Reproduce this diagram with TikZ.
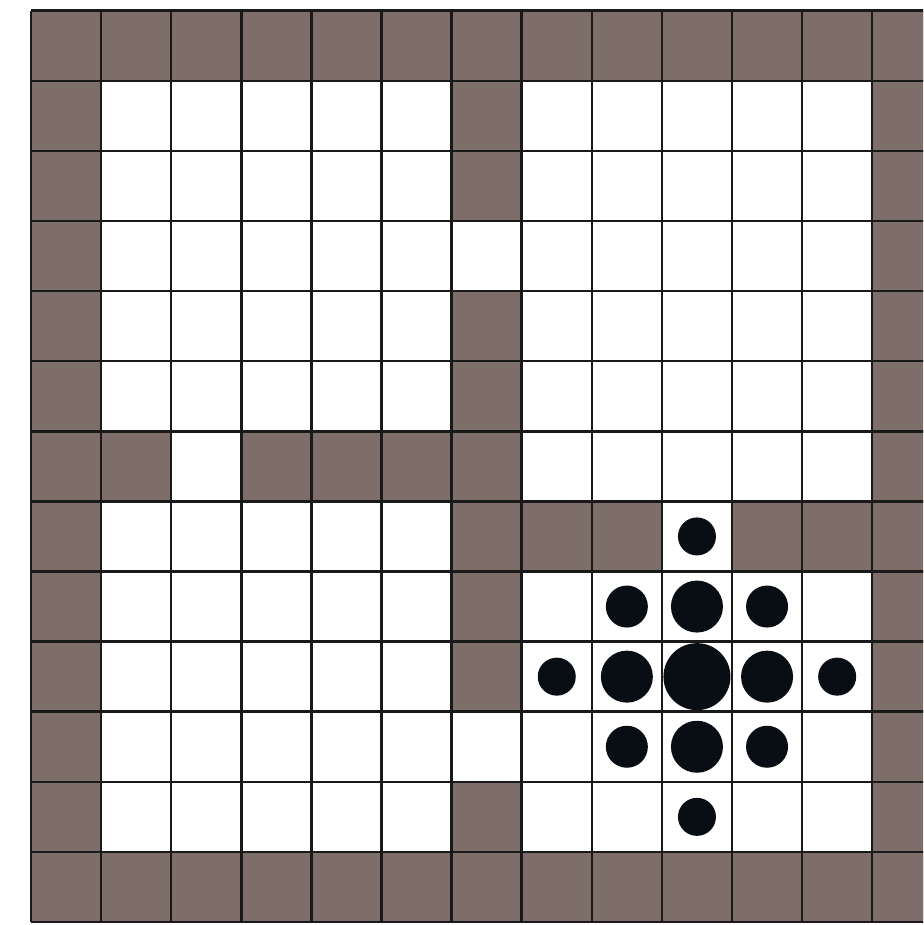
\documentclass[tikz,border=0pt]{standalone}
\definecolor{wallgray}{RGB}{125,110,106}
\definecolor{dotblack}{RGB}{8,14,20}
\begin{document}
\begin{tikzpicture}[x=0.02cm,y=-0.02cm,
  wall/.style={fill=wallgray},
  gridline/.style={line width=1.45pt, draw=black!90},
  dot/.style={fill=dotblack}]
\useasboundingbox (0,0) rectangle (923,925);
\clip (0,0) rectangle (923,925);
\fill[white] (0,0) rectangle (923,925);
\def\cs{70.1}
\def\ox{31}
\def\oy{10.7}
% outer walls
\foreach \i in {0,...,12} {
  \fill[wall] ({\ox+\i*\cs},{\oy}) rectangle ++(\cs,\cs);
  \fill[wall] ({\ox+\i*\cs},{\oy+12*\cs}) rectangle ++(\cs,\cs);
  \fill[wall] ({\ox},{\oy+\i*\cs}) rectangle ++(\cs,\cs);
  \fill[wall] ({\ox+12*\cs},{\oy+\i*\cs}) rectangle ++(\cs,\cs);
}
% inner walls
\foreach \c/\r in {6/1,6/2,6/4,6/5,6/6,6/7,6/8,6/9,6/11,
                   1/6,3/6,4/6,5/6,
                   7/7,8/7,10/7,11/7} {
  \fill[wall] ({\ox+\c*\cs},{\oy+\r*\cs}) rectangle ++(\cs,\cs);
}
% grid lines
\foreach \i in {0,...,13} {
  \draw[gridline] ({\ox+\i*\cs},{\oy}) -- ({\ox+\i*\cs},{\oy+13*\cs});
  \draw[gridline] ({\ox},{\oy+\i*\cs}) -- ({\ox+13*\cs},{\oy+\i*\cs});
}
% dots
\foreach \c/\r/\rad in {9/9/33.5,
  9/8/26,9/10/26,8/9/26,10/9/26,
  8/8/21,10/8/21,8/10/21,10/10/21,
  9/7/19,9/11/19,7/9/19,11/9/19} {
  \fill[dot] ({\ox+(\c+0.5)*\cs},{\oy+(\r+0.5)*\cs}) circle[radius=\rad];
}
\end{tikzpicture}
\end{document}
